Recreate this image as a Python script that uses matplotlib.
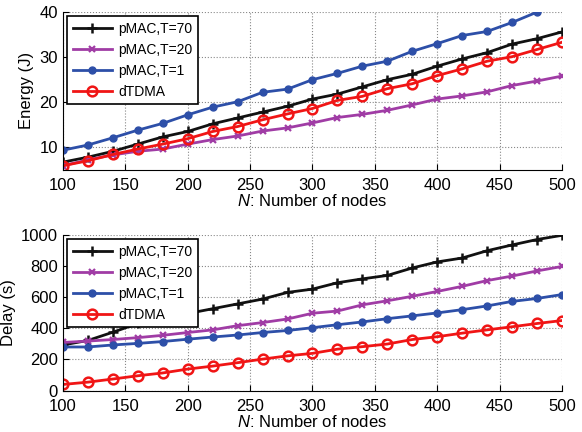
import matplotlib
matplotlib.use("Agg")
import matplotlib.pyplot as plt

plt.rcParams['font.family'] = ['Liberation Sans', 'DejaVu Sans']
plt.rcParams['mathtext.fontset'] = 'custom'
plt.rcParams['mathtext.it'] = 'Liberation Sans:italic'
plt.rcParams['mathtext.rm'] = 'Liberation Sans'

nodes = [100, 120, 140, 160, 180, 200, 220, 240, 260, 280, 300,
         320, 340, 360, 380, 400, 420, 440, 460, 480, 500]

energy_t70 = [6.7, 7.8, 9.1, 10.7, 12.3, 13.5, 15.2, 16.5, 17.8, 19.1, 20.7,
              21.8, 23.4, 25.0, 26.2, 28.0, 29.6, 31.0, 32.9, 34.1, 35.6]
energy_t20 = [5.9, 7.2, 8.3, 9.1, 9.6, 10.7, 11.7, 12.5, 13.6, 14.3, 15.4,
              16.6, 17.3, 18.2, 19.4, 20.7, 21.4, 22.3, 23.7, 24.7, 25.8]
energy_t1 = [9.35, 10.5, 12.1, 13.8, 15.3, 17.2, 18.9, 20.1, 22.2, 22.9, 25.0,
             26.4, 28.0, 29.1, 31.3, 33.0, 34.8, 35.7, 37.7, 40.0, 42.0]
energy_dtdma = [5.9, 7.0, 8.4, 9.6, 10.7, 11.9, 13.5, 14.6, 16.1, 17.4, 18.6,
                20.4, 21.3, 23.0, 24.1, 25.9, 27.4, 29.1, 30.1, 31.7, 33.3]

delay_t70 = [293, 322, 375, 431, 468, 495, 526, 557, 588, 631, 652,
             693, 718, 740, 788, 827, 852, 899, 936, 971, 998]
delay_t20 = [309, 318, 328, 340, 355, 373, 390, 417, 437, 460, 497,
             511, 551, 577, 606, 637, 670, 707, 736, 769, 798]
delay_t1 = [280, 280, 293, 303, 315, 330, 344, 357, 373, 386, 404,
            423, 441, 462, 480, 499, 520, 544, 573, 592, 617]
delay_dtdma = [39, 54, 74, 95, 113, 138, 157, 179, 202, 223, 239,
               266, 282, 299, 328, 346, 369, 390, 410, 431, 450]

labels = ['pMAC,T=70', 'pMAC,T=20', 'pMAC,T=1', 'dTDMA']
colors = ['#111111', '#a03ca5', '#2d4fa8', '#f01515']

fig = plt.figure(figsize=(5.82, 4.32), dpi=100)
ax1 = fig.add_axes([0.1082, 0.607, 0.8574, 0.365])
ax2 = fig.add_axes([0.1082, 0.096, 0.8574, 0.360])


def draw(ax, series):
    styles = [dict(marker='+', markersize=7, markeredgewidth=1.8),
              dict(marker='x', markersize=4, markeredgewidth=1.6),
              dict(marker='o', markersize=5),
              dict(marker='o', markersize=7, markerfacecolor='none', markeredgewidth=1.8)]
    for s, lab, c, st in zip(series, labels, colors, styles):
        ax.plot(nodes, s, color=c, lw=2, label=lab, **st)
    ax.set_xlim(100, 500)
    ax.set_xticks([100, 150, 200, 250, 300, 350, 400, 450, 500])
    ax.grid(True, linestyle=':', color='#888888', linewidth=0.8)
    ax.tick_params(direction='in', labelsize=12, length=4)
    ax.tick_params(axis='x', pad=6)
    for sp in ['top', 'right']:
        ax.spines[sp].set_visible(False)
    ax.set_xlabel(r'$\mathit{N}$: Number of nodes', fontsize=12, labelpad=0)
    leg = ax.legend(loc='upper left', fontsize=10, frameon=True, fancybox=False,
                    edgecolor='black', handlelength=2.8, borderaxespad=0.3,
                    labelspacing=0.5, numpoints=1, framealpha=1,
                    handletextpad=0.5)
    leg.get_frame().set_linewidth(1.2)


draw(ax1, [energy_t70, energy_t20, energy_t1, energy_dtdma])
ax1.set_ylim(5, 40)
ax1.set_yticks([10, 20, 30, 40])
ax1.set_ylabel('Energy (J)', fontsize=12)

draw(ax2, [delay_t70, delay_t20, delay_t1, delay_dtdma])
ax2.set_ylim(0, 1000)
ax2.set_yticks([0, 200, 400, 600, 800, 1000])
ax2.set_ylabel('Delay (s)', fontsize=12)

fig.savefig('out.png', dpi=100)
